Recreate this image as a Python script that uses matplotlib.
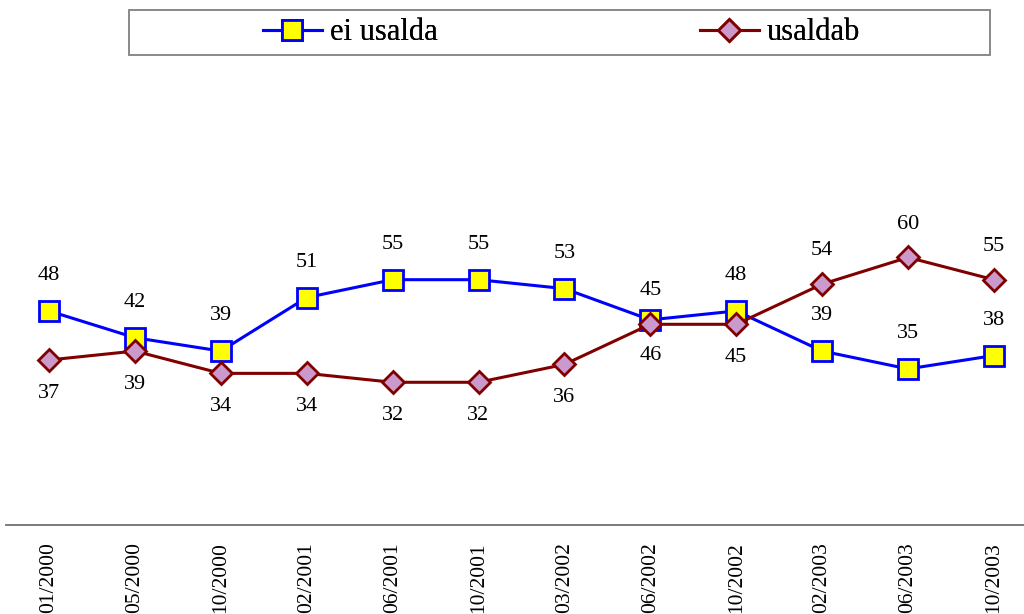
import matplotlib
matplotlib.use("Agg")
import matplotlib.pyplot as plt
from matplotlib.patches import Rectangle

plt.rcParams['font.family'] = ['Liberation Serif', 'DejaVu Serif']

categories = ["01/2000", "05/2000", "10/2000", "02/2001", "06/2001", "10/2001",
              "03/2002", "06/2002", "10/2002", "02/2003", "06/2003", "10/2003"]
ei_usalda = [48, 42, 39, 51, 55, 55, 53, 46, 48, 39, 35, 38]
usaldab = [37, 39, 34, 34, 32, 32, 36, 45, 45, 54, 60, 55]

# label placement: +1 above marker, -1 below marker
ei_pos = [1, 1, 1, 1, 1, 1, 1, -1, 1, 1, 1, 1]
us_pos = [-1, -1, -1, -1, -1, -1, -1, 1, -1, 1, 1, 1]

W, H = 1024, 614
fig = plt.figure(figsize=(W / 100, H / 100), dpi=100)

# axes: x from -0.5..11.5, y from 0..100
px_unit = 85.9
left_px = 49 - 0.5 * px_unit
ax_w_px = 12 * px_unit
y0_px = 525
y100_px = 79
ax = fig.add_axes([left_px / W, 1 - y0_px / H, ax_w_px / W, (y0_px - y100_px) / H])
ax.set_xlim(-0.5, 11.5)
ax.set_ylim(0, 100)

x = list(range(len(categories)))
blue_kw = dict(color='#0000FF', lw=2.2, marker='s', ms=14, mfc='#FFFF00',
               mec='#0000FF', mew=2.0)
red_kw = dict(color='#800000', lw=2.2, marker='D', ms=11, mfc='#CC99CC',
              mec='#800000', mew=2.0)
l1, = ax.plot(x, ei_usalda, zorder=3, **blue_kw)
l2, = ax.plot(x, usaldab, zorder=4, **red_kw)

for xi, v, p in zip(x, ei_usalda, ei_pos):
    ax.annotate(str(v), (xi, v), xytext=(0, 25.5 * p), textcoords='offset points',
                ha='center', va='center', fontsize=16, color='black')
for xi, v, p in zip(x, usaldab, us_pos):
    ax.annotate(str(v), (xi, v), xytext=(0, 24 * p), textcoords='offset points',
                ha='center', va='center', fontsize=16, color='black')

for s in ['top', 'right', 'left']:
    ax.spines[s].set_visible(False)
ax.spines['bottom'].set_color('#707070')
ax.spines['bottom'].set_linewidth(1.3)
ax.set_yticks([])
ax.set_xticks(x)
ax.set_xticklabels(categories, rotation=90, fontsize=15.5, va='top')
ax.tick_params(axis='x', length=0, pad=12.5)
ax.patch.set_visible(False)

# legend frame
fig.patches.append(Rectangle((129 / W, 1 - 55 / H), (990 - 129) / W, 45 / H,
                             transform=fig.transFigure, fill=True, fc='white',
                             ec='#808080', lw=1.3, zorder=0))
leg_y = 1 - 33 / H
for handle, label, xpx in [(l1, 'ei usalda', 263), (l2, 'usaldab', 700)]:
    lg = fig.legend([handle], [label], loc='center left',
                    bbox_to_anchor=(xpx / W, leg_y), frameon=False,
                    borderpad=0, borderaxespad=0, handlelength=1.93,
                    handletextpad=0.26, fontsize=22)
    fig.add_artist(lg)

fig.savefig('out.png', dpi=100)
